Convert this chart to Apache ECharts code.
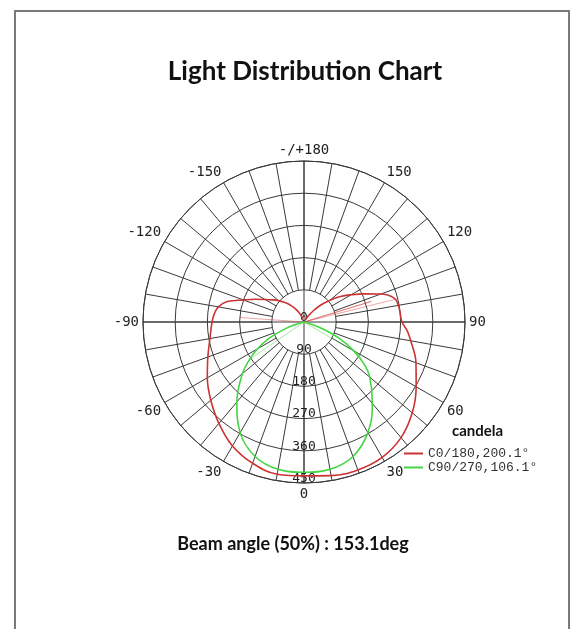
<!DOCTYPE html>
<html>
<head>
<meta charset="utf-8">
<script src="https://cdn.jsdelivr.net/npm/echarts@6/dist/echarts.min.js"></script>
<style>
html, body { margin: 0; padding: 0; background: #fff; }
#chart { width: 571px; height: 629px; }
</style>
</head>
<body>
<div id="chart"></div>
<script>
// gamma angle in degrees (0 = straight down, + towards the right), intensity in cd
var c0Angles = [-160, -155, -150, -145, -140, -135, -130, -125, -120, -115, -110, -105, -100, -95, -90, -80, -70, -60, -50, -40, -30, -20, -10,
  0, 10, 20, 30, 40, 50, 60, 70, 80, 85, 90, 95, 100, 105, 110, 115, 120, 125, 130, 135, 140, 145, 150];
var c0Values = [10, 22, 36, 50, 64, 78, 93, 108, 126, 150, 180, 222, 243, 252, 257, 267, 286, 312, 340, 370, 400, 420, 432,
  430, 436, 440, 437, 422, 395, 362, 333, 303, 290, 274, 270, 268, 260, 229, 186, 152, 124, 95, 68, 42, 20, 6];

var c90Angles = [-80, -75, -70, -65, -60, -55, -50, -40, -30, -20, -10, 0, 10, 20, 30, 40, 50, 55, 60, 65, 70, 75, 80];
var c90Values = [0, 15, 58, 108, 150, 188, 225, 292, 357, 400, 418, 420, 418, 400, 357, 297, 240, 205, 160, 110, 55, 15, 0];

// faint rays from the centre seen in the plot
var c0RayAngles = [-94, 107, 104];
var c0RayValues = [180, 197, 272];
var c90RayAngles = [-55.5, 59.5];
var c90RayValues = [183, 186];

var ringTicks = [0, 90, 180, 270, 360, 450];

var c0Name = 'C0/180,200.1°';
var c90Name = 'C90/270,106.1°';

function toPolar(angles, values) {
  return angles.map(function (a, i) { return [values[i], (a + 360) % 360]; });
}
function rays(angles, values) {
  var out = [];
  angles.forEach(function (a, i) {
    if (i > 0) out.push([0, 0]);
    out.push([values[i], (a + 360) % 360]);
  });
  return out;
}

var chart = echarts.init(document.getElementById('chart'));
var gridColor = '#3a3a3a';

chart.setOption({
  animation: false,
  backgroundColor: '#fff',
  graphic: [{
    type: 'rect',
    shape: { x: 15, y: 11, width: 554, height: 660 },
    style: { fill: 'none', stroke: '#7a7a7a', lineWidth: 2 }
  }],
  title: [
    { text: 'Light Distribution Chart', left: 305, top: 59, textAlign: 'center', padding: 0,
      textStyle: { fontFamily: 'Lato', fontSize: 26, fontWeight: 'bold', color: '#111' } },
    { text: 'Beam angle (50%) : 153.1deg', left: 293, top: 535, textAlign: 'center', padding: 0,
      textStyle: { fontFamily: 'Lato', fontSize: 18, fontWeight: 'bold', color: '#111' } },
    { text: 'candela', left: 452, top: 424, padding: 0,
      textStyle: { fontFamily: 'Lato', fontSize: 15, fontWeight: 'bold', color: '#111' } }
  ],
  legend: {
    left: 404, top: 447, orient: 'vertical', padding: 0,
    icon: 'rect', itemWidth: 19, itemHeight: 2, itemGap: 1,
    data: [c0Name, c90Name],
    textStyle: { fontFamily: 'Liberation Mono', fontSize: 13, color: '#333' }
  },
  polar: [
    { center: [304, 322], radius: 161 },
    { center: [304, 322], radius: [32.2, 161] }
  ],
  angleAxis: [
    { polarIndex: 0, type: 'value', min: 0, max: 360, interval: 90, startAngle: 270, clockwise: false,
      axisLine: { show: true, lineStyle: { color: gridColor, width: 1 } },
      axisTick: { show: false }, axisLabel: { show: false },
      splitLine: { show: true, lineStyle: { color: gridColor, width: 1 } } },
    { polarIndex: 1, type: 'value', min: 0, max: 360, interval: 10, startAngle: 270, clockwise: false,
      axisLine: { show: false }, axisTick: { show: false },
      axisLabel: {
        show: true, margin: 4, fontFamily: 'DejaVu Sans Mono', fontSize: 14, color: '#222',
        formatter: function (v) {
          if (v % 30 !== 0 || v === 360) return '';
          if (v === 180) return '-/+180';
          return String(v > 180 ? v - 360 : v);
        }
      },
      splitLine: { show: true, lineStyle: { color: gridColor, width: 1 } } }
  ],
  radiusAxis: [
    { polarIndex: 0, type: 'value', min: ringTicks[0], max: ringTicks[ringTicks.length - 1], interval: 90,
      axisLine: { show: false }, axisTick: { show: false },
      axisLabel: { show: true, margin: 0, align: 'center', verticalAlign: 'bottom', lineHeight: 9,
        fontFamily: 'DejaVu Sans Mono', fontSize: 13, color: '#222' },
      splitLine: { show: true, lineStyle: { color: gridColor, width: 1 } } },
    { polarIndex: 1, type: 'value', min: 0, max: 450, show: false }
  ],
  series: [
    { name: c0Name + ' rays', type: 'line', coordinateSystem: 'polar', polarIndex: 0, symbol: 'none',
      data: rays(c0RayAngles, c0RayValues), lineStyle: { color: 'rgba(210,60,60,0.45)', width: 1 } },
    { name: c90Name + ' rays', type: 'line', coordinateSystem: 'polar', polarIndex: 0, symbol: 'none',
      data: rays(c90RayAngles, c90RayValues), lineStyle: { color: 'rgba(70,210,70,0.5)', width: 1 } },
    { name: c0Name, type: 'line', coordinateSystem: 'polar', polarIndex: 0, symbol: 'none', smooth: 0.4,
      data: toPolar(c0Angles, c0Values), itemStyle: { color: '#cc3333' }, lineStyle: { color: '#cc3333', width: 1.6 } },
    { name: c90Name, type: 'line', coordinateSystem: 'polar', polarIndex: 0, symbol: 'none', smooth: 0.4,
      data: toPolar(c90Angles, c90Values), itemStyle: { color: '#44d644' }, lineStyle: { color: '#44d644', width: 1.6 } }
  ]
});
</script>
</body>
</html>
